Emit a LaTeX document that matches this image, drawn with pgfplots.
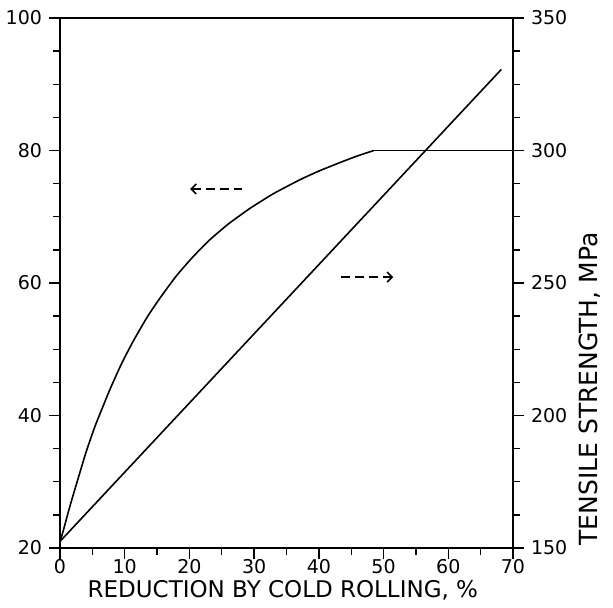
\documentclass[border=0pt]{standalone}
\usepackage{pgfplots}
\pgfplotsset{compat=1.18}
\usepackage{fontspec}
\setmainfont{DejaVu Sans}
\usetikzlibrary{arrows.meta}

% yield strength (left scale), rising part and plateau
\pgfplotstableread{
x y
0 21
0.5 22.6
1.5 26.2
2.8 30.5
4.1 34.7
5.5 38.6
7.7 43.9
9.5 47.8
11.3 51.2
13.5 54.9
15.5 57.8
18 61.1
20.4 63.8
23 66.4
26 68.9
29.4 71.3
33 73.5
37.1 75.6
40 76.9
43.3 78.2
46 79.2
48.5 80
}\yieldtab
\pgfplotstableread{
x y
48.5 80
70 80
}\plateautab
% tensile strength (right scale)
\pgfplotstableread{
x y
0 152.5
68.2 330.6
}\tensiletab

\pgfplotsset{
  common/.style={
    scale only axis, width=226.5pt, height=265pt,
    xmin=0, xmax=70,
    tick align=outside,
    major tick length=5.5pt, minor tick length=3.5pt,
    tick style={black, line width=0.7pt},
    axis line style={line width=0.8pt},
    ticklabel style={font=\fontsize{9.5}{11}\selectfont},
    /pgf/number format/assume math mode=true,
  }
}

\begin{document}
\begin{tikzpicture}
\useasboundingbox (-30pt,-29.5pt) rectangle (276.5pt,274pt);
\begin{axis}[common,
  ymin=20, ymax=100,
  xtick={0,10,...,70}, ytick={20,40,...,100},
  minor x tick num=1, minor y tick num=3,
  tick pos=left,
  xticklabel style={yshift=3.5pt},
  xlabel={REDUCTION BY COLD ROLLING, \%},
  xlabel style={at={(axis description cs:0.492,-0.080)}, anchor=center,
                font=\fontsize{11.5}{13}\selectfont},
]
\addplot[black, line width=0.8pt, smooth, tension=0.3] table[x=x, y=y] {\yieldtab};
\addplot[black, line width=0.8pt] table[x=x, y=y] {\plateautab};
\draw[line width=0.8pt, dash pattern=on 4.5pt off 2.5pt,
      {Straight Barb[length=2.5pt,width=5pt]}-] (axis cs:20.1,74.2) -- (axis cs:28.2,74.2);
\draw[line width=0.8pt, dash pattern=on 4.5pt off 2.5pt,
      -{Straight Barb[length=2.5pt,width=5pt]}] (axis cs:43.4,60.9) -- (axis cs:51.5,60.9);
\end{axis}
\begin{axis}[common,
  ymin=150, ymax=350,
  hide x axis,
  axis y line*=right,
  ytick={150,200,...,350},
  minor y tick num=3,
  ylabel={TENSILE STRENGTH, MPa},
  ylabel style={at={(axis description cs:1.17,0.30)}, anchor=center,
                font=\fontsize{12.5}{14}\selectfont},
]
\addplot[black, line width=0.8pt] table[x=x, y=y] {\tensiletab};
\end{axis}
\end{tikzpicture}
\end{document}
